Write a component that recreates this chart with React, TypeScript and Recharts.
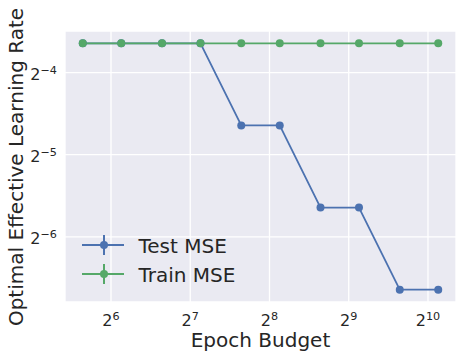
import React from 'react';
import { LineChart, Line, XAxis, YAxis, CartesianGrid, Legend } from 'recharts';

const epochBudgets = [50, 70, 100, 140, 200, 280, 400, 560, 800, 1120];
const testMSE = [0.08, 0.08, 0.08, 0.08, 0.04, 0.04, 0.02, 0.02, 0.01, 0.01];
const trainMSE = [0.08, 0.08, 0.08, 0.08, 0.08, 0.08, 0.08, 0.08, 0.08, 0.08];
const xTickExps = [6, 7, 8, 9, 10];
const yTickExps = [-4, -5, -6];
const seriesNames = ['Test MSE', 'Train MSE'];
const xLabel = 'Epoch Budget';
const yLabel = 'Optimal Effective Learning Rate';

const BLUE = '#4c72b0';
const GREEN = '#55a868';
const TEXT = '#262626';
const FONT = 'DejaVu Sans, sans-serif';

const data = epochBudgets.map((x, i) => ({ x, test: testMSE[i], train: trainMSE[i] }));

// matplotlib-like 5% margins in log space
const logPad = (lo: number, hi: number) => {
  const a = Math.log2(lo);
  const b = Math.log2(hi);
  const m = (b - a) * 0.05;
  return [Math.pow(2, a - m), Math.pow(2, b + m)];
};
const allY = [...testMSE, ...trainMSE];
const xDomain = logPad(Math.min(...epochBudgets), Math.max(...epochBudgets));
const yDomain = logPad(Math.min(...allY), Math.max(...allY));
const xTicks = xTickExps.map((e) => Math.pow(2, e));
const yTicks = yTickExps.map((e) => Math.pow(2, e));

const fmtExp = (v: number) => {
  const e = Math.round(Math.log2(v));
  return e < 0 ? '\u2212' + Math.abs(e) : String(e);
};

const XTick = (props: any) => {
  const { x, y, payload } = props;
  return (
    <text x={x} y={y + 16} textAnchor="middle" fill={TEXT} fontFamily={FONT} fontSize={16}>
      <tspan>2</tspan>
      <tspan dy={-6} fontSize={11.2}>{fmtExp(payload.value)}</tspan>
    </text>
  );
};

const YTick = (props: any) => {
  const { x, y, payload } = props;
  return (
    <text x={x} y={y + 7} textAnchor="end" fill={TEXT} fontFamily={FONT} fontSize={16}>
      <tspan>2</tspan>
      <tspan dy={-6} fontSize={11.2}>{fmtExp(payload.value)}</tspan>
    </text>
  );
};

const renderLegend = () => {
  const colors = [BLUE, GREEN];
  return (
    <svg width={190} height={60} style={{ overflow: 'visible' }}>
      {seriesNames.map((name, i) => {
        const cy = 15 + i * 29;
        return (
          <g key={name}>
            <line x1={12} x2={54} y1={cy} y2={cy} stroke={colors[i]} strokeWidth={2} />
            <line x1={34} x2={34} y1={cy - 10} y2={cy + 10} stroke={colors[i]} strokeWidth={2} />
            <circle cx={34} cy={cy} r={4} fill={colors[i]} />
            <text x={68.5} y={cy + 8} fill={TEXT} fontFamily={FONT} fontSize={20}>{name}</text>
          </g>
        );
      })}
    </svg>
  );
};

export default function App() {
  return (
    <div style={{ position: 'absolute', left: 0, top: 0, width: 463, height: 359, background: '#fff' }}>
      <LineChart width={463} height={359} data={data} margin={{ top: 31, right: 7, left: 0, bottom: 0 }}>
        <CartesianGrid fill="#eaeaf2" stroke="#ffffff" strokeWidth={1.3} strokeDasharray="" />
        <XAxis
          dataKey="x"
          type="number"
          scale="log"
          domain={xDomain}
          allowDataOverflow
          ticks={xTicks}
          tick={<XTick />}
          tickLine={false}
          axisLine={false}
          height={57}
          interval={0}
        />
        <YAxis
          type="number"
          scale="log"
          domain={yDomain}
          allowDataOverflow
          ticks={yTicks}
          tick={<YTick />}
          tickLine={false}
          axisLine={false}
          width={65}
          interval={0}
        />
        <Line
          dataKey="test"
          name={seriesNames[0]}
          stroke={BLUE}
          strokeWidth={1.8}
          dot={{ r: 4, fill: BLUE, stroke: 'none' }}
          isAnimationActive={false}
        />
        <Line
          dataKey="train"
          name={seriesNames[1]}
          stroke={GREEN}
          strokeWidth={1.8}
          dot={{ r: 4, fill: GREEN, stroke: 'none' }}
          isAnimationActive={false}
        />
        <Legend
          layout="horizontal"
          verticalAlign="middle"
          align="center"
          content={renderLegend}
          wrapperStyle={{ left: 70, top: 230, width: 190, height: 60 }}
        />
        <text x={260.5} y={347} textAnchor="middle" fill={TEXT} fontFamily={FONT} fontSize={20}>
          {xLabel}
        </text>
        <text
          x={22.5}
          y={167}
          transform="rotate(-90 22.5 167)"
          textAnchor="middle"
          fill={TEXT}
          fontFamily={FONT}
          fontSize={20}
        >
          {yLabel}
        </text>
      </LineChart>
    </div>
  );
}
